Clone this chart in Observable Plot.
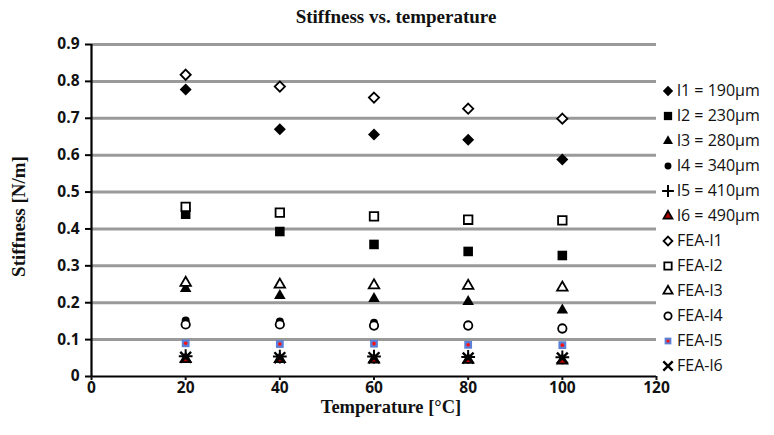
<!DOCTYPE html>
<html><head><meta charset="utf-8">
<script src="https://cdn.jsdelivr.net/npm/d3@7"></script>
<script src="https://cdn.jsdelivr.net/npm/@observablehq/plot@0.6"></script>
<style>
body{margin:0;background:#fff;}
#wrap{position:relative;width:774px;height:435px;overflow:hidden;}
#title{height:30px;width:792px;text-align:center;font:bold 19px "Liberation Serif",serif;line-height:34px;color:#111;}
#legend{position:absolute;left:660px;top:0;font:16px "Open Sans",sans-serif;color:#111;}
.item{position:absolute;left:0;white-space:nowrap;height:20px;line-height:20px;}
.item svg{position:absolute;left:0;top:0;}
.item span{position:absolute;left:17px;top:-1px;}
</style></head>
<body><div id="wrap"><div id="title">Stiffness vs. temperature</div><div id="chart"></div><div id="legend"></div></div>
<script>
const temperatures = [20, 40, 60, 80, 100];
const xTicks = [0, 20, 40, 60, 80, 100, 120];
const yTicks = [0, 0.1, 0.2, 0.3, 0.4, 0.5, 0.6, 0.7, 0.8, 0.9];
const seriesNames = ["l1 = 190μm","l2 = 230μm","l3 = 280μm","l4 = 340μm","l5 = 410μm","l6 = 490μm","FEA-l1","FEA-l2","FEA-l3","FEA-l4","FEA-l5","FEA-l6"];
const l1 = [0.778, 0.670, 0.656, 0.642, 0.588];
const l2 = [0.440, 0.393, 0.358, 0.339, 0.328];
const l3 = [0.238, 0.219, 0.211, 0.203, 0.180];
const l4 = [0.152, 0.149, 0.146, 0.141, 0.133];
const l5 = [0.055, 0.054, 0.054, 0.053, 0.052];
const l6 = [0.047, 0.047, 0.046, 0.045, 0.043];
const feaL1 = [0.818, 0.786, 0.756, 0.726, 0.699];
const feaL2 = [0.460, 0.444, 0.434, 0.425, 0.423];
const feaL3 = [0.254, 0.249, 0.247, 0.246, 0.241];
const feaL4 = [0.141, 0.141, 0.138, 0.138, 0.130];
const feaL5 = [0.090, 0.088, 0.089, 0.086, 0.085];
const feaL6 = [0.052, 0.051, 0.051, 0.050, 0.050];
const seriesValues = [l1, l2, l3, l4, l5, l6, feaL1, feaL2, feaL3, feaL4, feaL5, feaL6];

// styles (separate from the data)
const styles = [
  {symbol:"diamond2", fill:"#000", stroke:"none", r:5.4, sw:0},
  {symbol:"square", fill:"#000", stroke:"none", r:5.4, sw:0},
  {symbol:"triangle", fill:"#000", stroke:"none", r:4.3, sw:0},
  {symbol:"circle", fill:"#000", stroke:"none", r:4, sw:0},
  {symbol:"plus", fill:"none", stroke:"#000", r:4.5, sw:2},
  {symbol:"triangle", fill:"#b00000", stroke:"#000", r:3.8, sw:1.8},
  {symbol:"diamond2", fill:"#fff", stroke:"#000", r:4.6, sw:1.8},
  {symbol:"square", fill:"#fff", stroke:"#000", r:4.8, sw:1.8},
  {symbol:"triangle", fill:"#fff", stroke:"#000", r:3.9, sw:1.8},
  {symbol:"circle", fill:"#fff", stroke:"#000", r:4.2, sw:1.8},
  {symbol:"square", fill:"#5b7fd6", stroke:"none", r:4.4, sw:0},
  {symbol:"times", fill:"none", stroke:"#000", r:5, sw:2.4}
];

const rows = [];
seriesNames.forEach((name, i) => temperatures.forEach((t, j) => rows.push({series: i, name, t, v: seriesValues[i][j]})));

const dotMarks = [];
styles.forEach((s, i) => {
  const data = rows.filter(d => d.series === i);
  dotMarks.push(Plot.dot(data, {x:"t", y:"v", symbol: () => s.symbol, r: s.r, fill: s.fill, stroke: s.stroke, strokeWidth: s.sw}));
  if (i === 10) dotMarks.push(Plot.dot(data, {x:"t", y:"v", r:1.8, fill:"#ff1010", stroke:"none"}));
});

const chart = Plot.plot({
  width: 774, height: 405,
  marginTop: 14, marginBottom: 59, marginLeft: 91, marginRight: 118,
  x: {domain:[0,120]},
  y: {domain:[0,0.9]},
  symbol: {type:"identity"},
  style: {background:"#fff", overflow:"visible"},
  marks: [
    Plot.ruleY(yTicks.filter(d => d > 0), {stroke:"#9a9a9a", strokeWidth:3}),
    ...dotMarks,
    Plot.ruleX([0], {stroke:"#000", strokeWidth:2.2}),
    Plot.ruleY([0], {stroke:"#000", strokeWidth:2.2}),
    Plot.axisY({ticks: yTicks, tickSize:6, tickPadding:6, tickFormat: d => d === 0 ? "0" : d.toFixed(1), label:null, fontSize:15.5, fontWeight:"bold", fontFamily:"Open Sans", stroke:"#000", strokeWidth:2, color:"#111"}),
    Plot.axisX({ticks: xTicks, tickSize:4, tickPadding:1, label:null, fontSize:15.5, fontWeight:"bold", fontFamily:"Open Sans", strokeWidth:2, color:"#111"}),
    Plot.text(["Stiffness [N/m]"], {text: d => d, frameAnchor:"left", textAnchor:"middle", dx:-73, dy:6, rotate:-90, fontSize:19, fontWeight:"bold", fontFamily:"Liberation Serif", fill:"#111"}),
    Plot.text(["Temperature [°C]"], {text: d => d, frameAnchor:"bottom", dx:17, dy:31, lineAnchor:"middle", fontSize:18.5, fontWeight:"bold", fontFamily:"Liberation Serif", fill:"#111"})
  ]
});
document.getElementById("chart").appendChild(chart);

// legend
const legend = document.getElementById("legend");
const symMap = {diamond2: d3.symbolDiamond2, square: d3.symbolSquare, triangle: d3.symbolTriangle, circle: d3.symbolCircle, plus: d3.symbolPlus, times: d3.symbolTimes};
seriesNames.forEach((name, i) => {
  const s = styles[i];
  const div = document.createElement("div");
  div.className = "item";
  div.style.top = (81 + i * 25) + "px";
  const path = d3.symbol(symMap[s.symbol], Math.PI * s.r * s.r * 0.75)();
  let inner = `<path transform="translate(8,10)" d="${path}" fill="${s.fill}" stroke="${s.stroke}" stroke-width="${s.sw}"/>`;
  if (i === 10) inner += `<circle cx="8" cy="10" r="1.6" fill="#ff1010"/>`;
  div.innerHTML = `<svg width="16" height="20">${inner}</svg><span>${name}</span>`;
  legend.appendChild(div);
});
</script></body></html>
